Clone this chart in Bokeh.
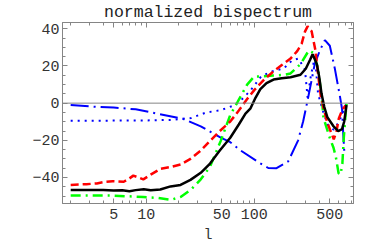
from bokeh.plotting import figure
from bokeh.models import (Range1d, FixedTicker, LogAxis, LinearAxis, Span)
from bokeh.embed import file_html
from bokeh.resources import INLINE

TITLE = "normalized bispectrum"
X_LABEL = "l"
X_TICKS = [5, 10, 50, 100, 500]
X_MINOR = [2, 3, 4, 6, 7, 8, 9, 20, 30, 40, 60, 70, 80, 90, 200, 300, 400, 600, 700, 800]
Y_TICKS = [-40, -20, 0, 20, 40]
Y_MINOR = [-50, -45, -35, -30, -25, -15, -10, -5, 5, 10, 15, 25, 30, 35]
X_MIN, X_MAX = 1.68, 830
Y_MIN, Y_MAX = -54.0, 43.4

black_l = [2, 3, 4, 5, 6, 7, 8, 9.5, 11, 13.5, 16.8, 20.8, 25.7, 32, 39, 48, 60, 72, 83, 92, 103, 114,
           130, 151, 180, 217, 268, 300, 330, 347, 380, 400, 420, 445, 475, 540, 600, 650, 680, 700, 716]
black_v = [-46.7, -46.8, -46.7, -47.0, -46.9, -47.4, -46.8, -46.3, -46.9, -46.5, -44.8, -44.0, -41.3, -37.5,
           -32.5, -25.5, -18.6, -11.5, -5.6, -3.0, 3.0, 7.5, 10.8, 12.7, 13.4, 13.9, 15.3, 18.5, 23.5, 26.3,
           21.0, 14.0, 5.0, -2.0, -7.5, -12.3, -15.0, -14.0, -10.0, -5.0, -1.0]

red_l = [2, 2.8, 3.5, 4.2, 4.9, 6.2, 7.0, 7.6, 8.5, 9.4, 11, 13.6, 17, 20.8, 25.7, 32, 39, 48, 60, 72, 86,
         100, 125, 150, 180, 217, 250, 275, 295, 312, 340, 367, 393, 415, 472, 545, 578, 607, 652, 700]
red_v = [-44.0, -43.6, -43.2, -42.3, -42.0, -42.3, -40.5, -39.0, -40.0, -41.0, -38.5, -35.3, -34.3, -33.0,
         -30.0, -25.5, -20.3, -15.0, -9.9, -4.0, 2.2, 7.0, 13.0, 17.0, 20.5, 24.0, 28.0, 32.0, 38.5, 41.3,
         38.7, 29.0, 14.0, 3.0, -10.0, -19.5, -15.0, -8.2, -3.8, -1.2]

green_l = [2, 4.7, 9.4, 13, 17, 21, 26, 32, 39, 49, 60, 70, 86, 100, 114, 150, 187, 217, 268, 320, 354,
           392, 425, 438, 500, 542, 570, 604, 630, 655, 675, 700, 716]
green_v = [-49.7, -49.7, -50.5, -51.0, -52.0, -50.4, -46.5, -41.0, -34.2, -20.3, -6.4, 0.5, 10.0, 14.4,
           14.4, 14.9, 15.2, 16.0, 21.0, 28.3, 27.0, 18.0, 1.0, -8.0, -18.6, -24.0, -29.0, -37.7, -38.4,
           -32.5, -18.6, -6.4, -0.4]

bluedd_l = [2, 3.5, 5, 8, 10.6, 12.6, 22, 32, 49, 60, 75, 113, 135, 161, 206, 255, 284, 305, 327, 364,
            405, 451, 501, 557, 620, 650, 665, 680, 700]
bluedd_v = [-1.0, -2.0, -2.4, -3.3, -4.7, -5.6, -8.5, -12.5, -18.6, -21.0, -25.5, -32.3, -34.9, -35.0,
            -31.4, -20.0, -9.7, -1.2, 7.4, 21.3, 28.3, 33.9, 30.9, 18.7, 4.0, -3.0, -15.0, -25.0, -28.0]

bluedot_l = [2, 5, 10, 17, 21, 26, 36, 49, 65, 75, 93, 116, 145, 188, 224, 257, 295, 312, 335, 365, 390,
             440, 480, 545, 610, 655, 716]
bluedot_v = [-9.5, -9.4, -9.3, -9.0, -8.5, -8.0, -5.0, -3.8, -1.2, 1.4, 7.0, 14.4, 17.0, 18.7, 23.0, 24.0,
             18.0, 3.0, 15.0, 25.0, 5.0, -5.6, -11.7, -14.3, -10.0, -5.6, 0.0]

FRAME = "#858585"
TEXT = "#333333"
FONT = "Liberation Mono"

p = figure(width=382, height=246, x_axis_type="log",
           x_range=Range1d(X_MIN, X_MAX), y_range=Range1d(Y_MIN, Y_MAX),
           output_backend="svg", toolbar_location=None, title=TITLE,
           min_border_left=62, min_border_right=29, min_border_top=21, min_border_bottom=38)
p.xgrid.visible = False
p.ygrid.visible = False
p.outline_line_color = FRAME
p.background_fill_color = "white"
p.border_fill_color = "white"

p.title.align = "center"
p.title.text_font = FONT
p.title.text_font_size = "16.5px"
p.title.text_font_style = "normal"
p.title.text_color = "#222222"
p.title.standoff = 1

xt = FixedTicker(ticks=X_TICKS, minor_ticks=X_MINOR)
yt = FixedTicker(ticks=Y_TICKS, minor_ticks=Y_MINOR)

def style(ax, labels=True):
    ax.axis_line_color = FRAME
    ax.major_tick_line_color = FRAME
    ax.minor_tick_line_color = FRAME
    ax.major_tick_in = 5
    ax.major_tick_out = 0
    ax.minor_tick_in = 3
    ax.minor_tick_out = 0
    ax.major_label_text_font = FONT
    if labels:
        ax.major_label_text_color = TEXT
        ax.major_label_text_font_size = "15px"
        ax.major_label_standoff = 5
    else:
        ax.major_label_text_color = None
        ax.major_label_text_font_size = "1px"
        ax.major_label_standoff = 0

p.xaxis.ticker = xt
p.xaxis.major_label_overrides = {t: str(t) for t in X_TICKS}
p.yaxis.ticker = yt
p.yaxis.major_label_overrides = {t: str(t).replace("-", "\u2212") for t in Y_TICKS}
style(p.xaxis[0])
style(p.yaxis[0])
p.yaxis[0].major_label_standoff = 3

# axis title "l" as the single label of a bare second bottom axis (tight placement)
xc = (X_MIN * X_MAX) ** 0.5
lab_axis = LogAxis(ticker=FixedTicker(ticks=[xc], minor_ticks=[]),
                   major_label_overrides={xc: X_LABEL})
lab_axis.axis_line_color = None
lab_axis.major_tick_line_color = None
lab_axis.minor_tick_line_color = None
lab_axis.major_tick_in = 0
lab_axis.major_tick_out = 0
lab_axis.major_label_text_font = FONT
lab_axis.major_label_text_font_size = "15px"
lab_axis.major_label_text_color = TEXT
lab_axis.major_label_standoff = 5
p.add_layout(lab_axis, "below")

top = LogAxis(ticker=xt)
style(top, labels=False)
p.add_layout(top, "above")
right = LinearAxis(ticker=yt)
style(right, labels=False)
p.add_layout(right, "right")

p.add_layout(Span(location=0, dimension="width", line_color=FRAME, line_width=1))

p.line(bluedot_l, bluedot_v, line_color="#0000ff", line_width=2, line_dash="2 5")
p.line(bluedd_l, bluedd_v, line_color="#0000ff", line_width=2, line_dash="18 5 2 5")
p.line(green_l, green_v, line_color="#00ff00", line_width=2.5, line_dash="10 5 2 5")
p.line(red_l, red_v, line_color="#ff0000", line_width=2.5, line_dash="8 4")
p.line(black_l, black_v, line_color="black", line_width=2.5)

open("out.html", "w").write(file_html(p, INLINE))
